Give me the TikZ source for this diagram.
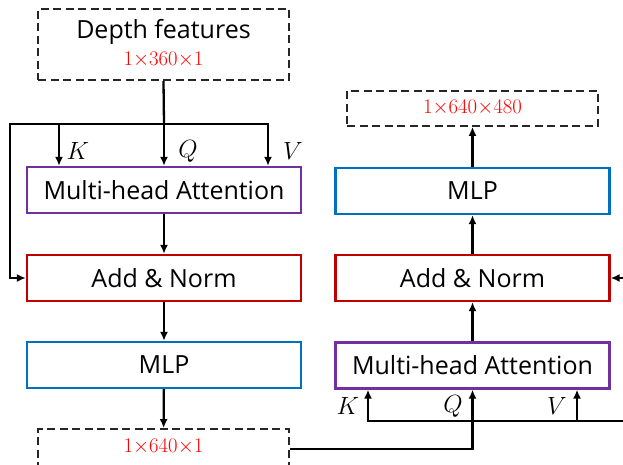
\documentclass[tikz,border=0pt]{standalone}
\usepackage{fontspec}
\setmainfont{Open Sans}
\usetikzlibrary{arrows.meta}

\definecolor{attnpurple}{RGB}{112,48,160}
\definecolor{normred}{RGB}{192,0,0}
\definecolor{mlpblue}{RGB}{0,112,192}
\definecolor{dimred}{RGB}{255,0,0}

\begin{document}
\begin{tikzpicture}[x=1pt,y=-1pt,
  block/.style={draw, line width=2.3pt, fill=white, minimum width=274pt, minimum height=46pt, inner sep=0pt, font=\fontsize{25}{30}\selectfont},
  attn/.style={block, draw=attnpurple},
  addnorm/.style={block, draw=normred},
  mlp/.style={block, draw=mlpblue},
  iobox/.style={draw=black!85, dash pattern=on 8pt off 4.5pt, line width=1.7pt, minimum width=251pt, inner sep=0pt},
  label/.style={font=\fontsize{25}{30}\selectfont},
  dims/.style={text=dimred, font=\fontsize{20.5}{24}\selectfont},
  flow/.style={line width=2.3pt, -{Latex[length=9pt,width=8pt]}},
  wire/.style={line width=2.3pt},
  qkv/.style={font=\fontsize{23}{26}\selectfont}]
\useasboundingbox (0,0) rectangle (623,465);

% encoder side
\node[iobox, minimum height=71pt] (depth) at (163.5,44.5) {};
\node[label] (depthtxt) at (163.5,32) {Depth features};
\node[dims] (dim0) at (163.5,60) {$1{\times}360{\times}1$};
\node[attn] (mha1) at (164,190) {Multi-head Attention};
\node[addnorm] (an1) at (164,278) {Add \& Norm};
\node[mlp] (mlp1) at (164,365) {MLP};
\node[iobox, minimum height=40pt] (out1) at (163.5,449) {};
\node[dims] (dim1) at (163.5,447) {$1{\times}640{\times}1$};
\coordinate (split) at (164,124);
\coordinate (kin1) at ([xshift=-105pt]mha1.north);
\coordinate (vin1) at ([xshift=104pt]mha1.north);
\node[qkv] (k1) at (78,151) {$K$};
\node[qkv] (q1) at (188,151) {$Q$};
\node[qkv] (v1) at (293,151) {$V$};

\draw[wire] (depth.south) -- (split);
\draw[flow] (split) -- (mha1.north);
\draw[flow] (split) -| (kin1);
\draw[flow] (split) -| (vin1);
\draw[flow] (split) -| ([xshift=-16pt]an1.west) -- (an1.west);
\draw[flow] (mha1) -- (an1);
\draw[flow] (an1) -- (mlp1);
\draw[flow] (mlp1) -- (out1);

% decoder side
\node[iobox, minimum height=35pt] (out2) at (472.5,108.5) {};
\node[dims] (dim2) at (472.5,108) {$1{\times}640{\times}480$};
\node[mlp] (mlp2) at (472.5,191) {MLP};
\node[addnorm] (an2) at (472.5,278) {Add \& Norm};
\node[attn] (mha2) at (472.5,365.5) {Multi-head Attention};
\coordinate (kin2) at ([xshift=-104.5pt]mha2.south);
\coordinate (vin2) at ([xshift=104.5pt]mha2.south);
\coordinate (feed) at (623,421);
\coordinate (skip) at (623,278);
\node[qkv] (k2) at (348,406) {$K$};
\node[qkv] (q2) at (453,406) {$Q$};
\node[qkv] (v2) at (557,406) {$V$};

\draw[flow] (out1.east) -| (mha2.south);
\draw[flow] (feed) -| (kin2);
\draw[flow] (vin2 |- feed) -- (vin2);
\draw[flow] (skip) -- (an2.east);
\draw[flow] (mha2) -- (an2);
\draw[flow] (an2) -- (mlp2);
\draw[flow] (mlp2) -- (out2);
\end{tikzpicture}
\end{document}
